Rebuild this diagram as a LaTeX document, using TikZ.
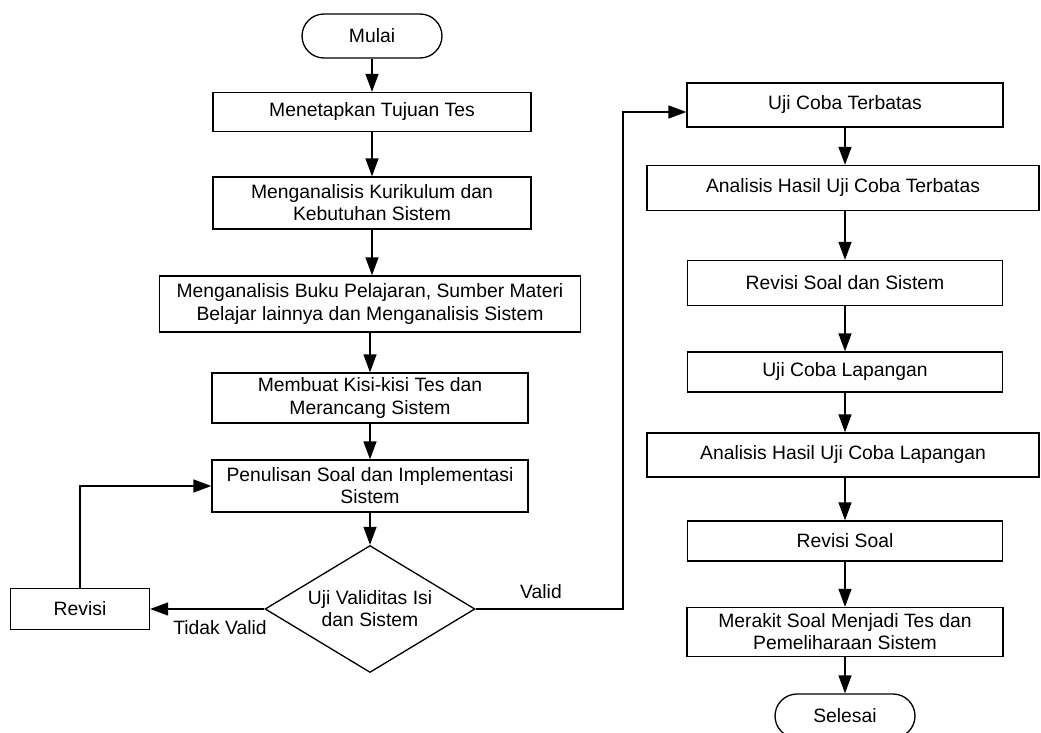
\documentclass[tikz,border=0pt]{standalone}
\usepackage{fontspec}
\setmainfont{Liberation Sans}
\usetikzlibrary{shapes.geometric, arrows.meta, positioning}

\begin{document}
\begin{tikzpicture}[x=0.02cm, y=-0.02cm, line width=0.75pt,
        font=\fontsize{11}{12.6}\selectfont,
        box/.style={draw, rectangle, align=center, inner sep=1pt},
        terminal/.style={draw, rectangle, rounded corners=0.44cm, minimum width=2.8cm, minimum height=0.88cm},
        decision/.style={draw, diamond, aspect=1.65, inner sep=0pt, align=center, minimum width=4.2cm, minimum height=2.54cm},
        arr/.style={-{Triangle[length=0.36cm, width=0.26cm]}}]
        \useasboundingbox (0,0) rectangle (1041,733);

        % Left column
        \node[terminal] (mulai) at (372,36) {Mulai};
        \node[box, minimum width=6.36cm, minimum height=0.78cm] (tujuan) at (372,112) {Menetapkan Tujuan Tes};
        \node[box, minimum width=6.36cm, minimum height=1.04cm] (kurikulum) at (372,203) {Menganalisis Kurikulum dan\\Kebutuhan Sistem};
        \node[box, minimum width=8.42cm, minimum height=1.12cm] (buku) at (370,304) {Menganalisis Buku Pelajaran, Sumber Materi\\Belajar lainnya dan Menganalisis Sistem};
        \node[box, minimum width=6.32cm, minimum height=1.0cm] (kisi) at (370,398) {Membuat Kisi-kisi Tes dan\\Merancang Sistem};
        \node[box, minimum width=6.32cm, minimum height=1.04cm] (penulisan) at (370,486) {Penulisan Soal dan Implementasi\\Sistem};
        \node[decision] (validitas) at (370,609) {Uji Validitas Isi\\dan Sistem};
        \node[box, minimum width=2.78cm, minimum height=0.82cm] (revisi) at (80,609) {Revisi};

        % Right column
        \node[box, minimum width=6.32cm, minimum height=0.88cm] (terbatas) at (845,105) {Uji Coba Terbatas};
        \node[box, minimum width=7.84cm, minimum height=0.9cm] (anterbatas) at (843,188) {Analisis Hasil Uji Coba Terbatas};
        \node[box, minimum width=6.3cm, minimum height=0.9cm] (revsistem) at (845,283) {Revisi Soal dan Sistem};
        \node[box, minimum width=6.3cm, minimum height=0.8cm] (lapangan) at (845,372) {Uji Coba Lapangan};
        \node[box, minimum width=7.84cm, minimum height=0.88cm] (anlapangan) at (843,455) {Analisis Hasil Uji Coba Lapangan};
        \node[box, minimum width=6.3cm, minimum height=0.8cm] (revsoal) at (845,541) {Revisi Soal};
        \node[box, minimum width=6.32cm, minimum height=0.98cm] (merakit) at (845,632) {Merakit Soal Menjadi Tes dan\\Pemeliharaan Sistem};
        \node[terminal] (selesai) at (845,716) {Selesai};

        % Labels
        \node (tidakvalid) at (220,628) {Tidak Valid};
        \node (valid) at (541,592) {Valid};

        % Arrows, left column
        \draw[arr] (mulai) -- (tujuan);
        \draw[arr] (tujuan) -- (kurikulum);
        \draw[arr] (kurikulum) -- (kurikulum |- buku.north);
        \draw[arr] (buku) -- (kisi);
        \draw[arr] (kisi) -- (penulisan);
        \draw[arr] (penulisan) -- (validitas);
        \draw[arr] (validitas) -- (revisi);
        \draw[arr] (revisi.north) |- (penulisan.west);

        % Arrow to the right column
        \coordinate (vbend) at (623,112);
        \draw[arr] (validitas.east) -| (vbend) -- (vbend -| terbatas.west);

        % Arrows, right column
        \draw[arr] (terbatas) -- (terbatas |- anterbatas.north);
        \draw[arr] (revsistem |- anterbatas.south) -- (revsistem);
        \draw[arr] (revsistem) -- (lapangan);
        \draw[arr] (lapangan) -- (lapangan |- anlapangan.north);
        \draw[arr] (revsoal |- anlapangan.south) -- (revsoal);
        \draw[arr] (revsoal) -- (merakit);
        \draw[arr] (merakit) -- (selesai);

    \end{tikzpicture}
\end{document}
